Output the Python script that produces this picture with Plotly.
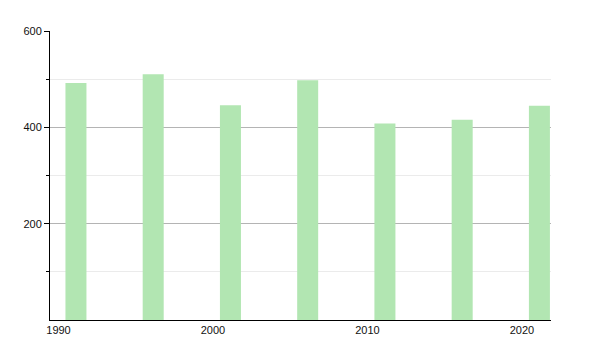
import plotly.graph_objects as go

years = [1991, 1996, 2001, 2006, 2011, 2016, 2021]
values = [492, 510, 446, 498, 408, 416, 445]
x_ticks = [1990, 2000, 2010, 2020]
y_ticks = [200, 400, 600]

fig = go.Figure(go.Bar(
    x=years, y=values, width=1.36, offset=-0.55,
    marker=dict(color="#b2e6b2", line=dict(width=0)),
))

fig.update_layout(
    width=600, height=350,
    margin=dict(l=50, r=49, t=31, b=30),
    paper_bgcolor="white", plot_bgcolor="white",
    showlegend=False,
    font=dict(family="Liberation Sans, Arial, sans-serif", size=11, color="#111"),
)
fig.update_xaxes(
    range=[1989.45, 2021.88], tickvals=x_ticks, ticktext=[str(v) for v in x_ticks],
    tickfont=dict(color="#111"),
    showgrid=False, showline=True, linecolor="black", linewidth=1,
    ticks="", zeroline=False,
)
fig.update_yaxes(
    range=[0, 600], tickvals=y_ticks, ticktext=[str(v) for v in y_ticks],
    tickfont=dict(color="#111"),
    showgrid=True, gridcolor="#b4b4b4", gridwidth=1,
    showline=True, linecolor="black", linewidth=1,
    ticks="outside", ticklen=5, tickcolor="black", zeroline=False,
    minor=dict(tickvals=[100, 300, 500], ticks="outside", ticklen=3,
               tickcolor="black", showgrid=True, gridcolor="#ebebeb"),
)

fig.write_html("out.html")
